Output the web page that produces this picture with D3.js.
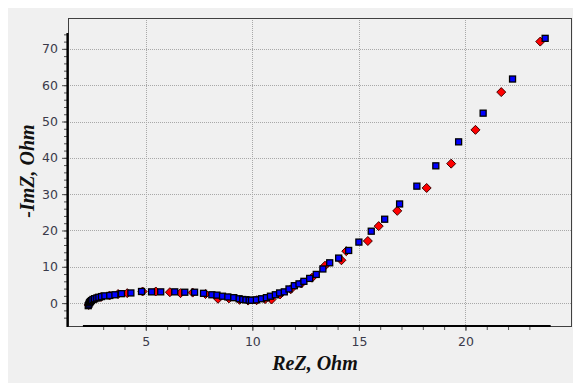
<!DOCTYPE html>
<html>
<head>
<meta charset="utf-8">
<script src="https://cdn.jsdelivr.net/npm/d3@7"></script>
<style>
  body { margin: 0; background: #ffffff; }
  svg { display: block; }
</style>
</head>
<body>
<figure id="nyquist" style="margin:0"></figure>
<script>
// ReZ / -ImZ values (Ohm)
const blueRe = [2.30, 2.33, 2.36, 2.40, 2.45, 2.52, 2.60, 2.70, 2.80, 2.92, 3.08, 3.31, 3.55, 3.86, 4.30,
  4.80, 5.27, 5.70, 6.36, 6.83, 7.29, 7.71, 8.10, 8.34, 8.60, 8.85, 9.13, 9.38, 9.55, 9.70, 9.85, 9.96,
  10.19, 10.43, 10.66, 10.85, 11.08, 11.28, 11.50, 11.72, 11.97, 12.19, 12.42, 12.69, 13.00, 13.31,
  13.63, 14.05, 14.52, 15.00, 15.58, 16.21, 16.91, 17.72, 18.61, 19.68, 20.83, 22.21, 23.74];
const blueIm = [-0.7, -0.3, 0.1, 0.4, 0.7, 1.0, 1.2, 1.4, 1.6, 1.8, 2.0, 2.1, 2.3, 2.6, 2.8,
  3.2, 3.1, 3.1, 3.1, 3.0, 3.0, 2.7, 2.3, 2.2, 1.9, 1.7, 1.5, 1.2, 1.0, 0.9, 0.8, 0.8,
  0.9, 1.2, 1.5, 1.9, 2.3, 2.8, 3.1, 3.9, 4.8, 5.3, 6.0, 6.8, 7.9, 9.4,
  11.1, 12.4, 14.5, 16.8, 19.8, 23.1, 27.3, 32.2, 37.8, 44.4, 52.3, 61.7, 72.9];

const redRe = [2.32, 2.38, 2.48, 2.65, 2.90, 3.30, 3.70, 4.13, 4.85, 5.47, 6.13, 6.63, 7.20, 7.80,
  8.39, 8.90, 9.40, 9.80, 10.20, 10.60, 10.90, 11.30, 11.80, 12.30, 12.80, 13.41, 14.18, 14.41,
  15.42, 15.93, 16.80, 18.18, 19.33, 20.47, 21.68, 23.51];
const redIm = [-0.5, 0.2, 0.9, 1.3, 1.7, 2.1, 2.5, 2.75, 3.2, 3.2, 3.0, 2.75, 2.9, 2.5,
  1.2, 1.3, 0.9, 0.7, 0.8, 1.1, 1.0, 2.4, 3.8, 5.4, 7.0, 10.3, 11.8, 14.3,
  17.1, 21.2, 25.4, 31.7, 38.4, 47.7, 58.1, 72.0];

const xTicks = [5, 10, 15, 20];
const yTicks = [0, 10, 20, 30, 40, 50, 60, 70];

const width = 573, height = 383;
const plot = {left: 68, top: 18, right: 572, bottom: 326};

const svg = d3.select("figure#nyquist")
  .append("svg")
  .attr("width", width)
  .attr("height", height);

// grey panel, white strip top/left
svg.append("rect").attr("width", width).attr("height", height).attr("fill", "#ffffff");
svg.append("rect").attr("x", 8).attr("y", 8).attr("width", width - 8).attr("height", height - 8).attr("fill", "#f0f0f0");

const x = d3.scaleLinear().domain([1.35, 25.0]).range([plot.left, plot.right]);
const y = d3.scaleLinear().domain([-6.3, 78.5]).range([plot.bottom, plot.top]);

// dotted grid
svg.append("g").selectAll("line")
  .data(xTicks).enter().append("line")
  .attr("x1", d => Math.round(x(d)) + 0.5).attr("x2", d => Math.round(x(d)) + 0.5)
  .attr("y1", plot.top).attr("y2", plot.bottom)
  .attr("stroke", "#a8a8a8").attr("stroke-dasharray", "1,1");
svg.append("g").selectAll("line")
  .data(yTicks).enter().append("line")
  .attr("y1", d => Math.round(y(d)) + 0.5).attr("y2", d => Math.round(y(d)) + 0.5)
  .attr("x1", plot.left).attr("x2", plot.right)
  .attr("stroke", "#a8a8a8").attr("stroke-dasharray", "1,1");

// thin frame
svg.append("rect")
  .attr("x", plot.left + 0.5).attr("y", plot.top + 0.5)
  .attr("width", plot.right - plot.left - 1).attr("height", plot.bottom - plot.top)
  .attr("fill", "none").attr("stroke", "#404040");

// axes with d3 axis generators
const xAxis = svg.append("g")
  .attr("transform", "translate(0," + plot.bottom + ")")
  .call(d3.axisBottom(x).tickValues(d3.range(3, 24)).tickSize(4).tickFormat(""));
xAxis.select(".domain").remove();
const xAxisMajor = svg.append("g")
  .attr("transform", "translate(0," + plot.bottom + ")")
  .call(d3.axisBottom(x).tickValues(xTicks).tickSize(5).tickPadding(6).tickFormat(d3.format("d")));
xAxisMajor.select(".domain").remove();

const yAxis = svg.append("g")
  .attr("transform", "translate(" + (plot.left - 1) + ",0)")
  .call(d3.axisLeft(y).tickValues(d3.range(-4, 76, 2)).tickSize(3).tickFormat(""));
yAxis.select(".domain").remove();
const yAxisMajor = svg.append("g")
  .attr("transform", "translate(" + (plot.left - 1) + ",0)")
  .call(d3.axisLeft(y).tickValues(yTicks).tickSize(5).tickPadding(4).tickFormat(d3.format("d")));
yAxisMajor.select(".domain").remove();

svg.selectAll(".tick line").attr("stroke", "#505050");
svg.selectAll(".tick text")
  .attr("fill", "#3a3a4a")
  .style("font-family", "'DejaVu Sans', sans-serif")
  .style("font-size", "12.5px");

// thick axis lines
svg.append("line")
  .attr("x1", plot.left - 0.5).attr("x2", plot.left - 0.5)
  .attr("y1", y(74.4)).attr("y2", plot.bottom + 1)
  .attr("stroke", "#000").attr("stroke-width", 2.2);
svg.append("line")
  .attr("x1", x(2.05)).attr("x2", x(24.0))
  .attr("y1", plot.bottom).attr("y2", plot.bottom)
  .attr("stroke", "#000").attr("stroke-width", 2.2);

// red diamonds (under)
svg.append("g").selectAll("path")
  .data(d3.zip(redRe, redIm)).enter().append("path")
  .attr("d", "M0,-4.5L4.5,0L0,4.5L-4.5,0Z")
  .attr("transform", d => "translate(" + x(d[0]) + "," + y(d[1]) + ")")
  .attr("fill", "#ff0000").attr("stroke", "#400000").attr("stroke-width", 1);

// blue squares (over)
svg.append("g").selectAll("rect")
  .data(d3.zip(blueRe, blueIm)).enter().append("rect")
  .attr("x", d => x(d[0]) - 3).attr("y", d => y(d[1]) - 3)
  .attr("width", 6).attr("height", 6)
  .attr("fill", "#0000ff").attr("stroke", "#000").attr("stroke-width", 1.3);

// axis titles
svg.append("text")
  .attr("x", 315).attr("y", 370)
  .attr("text-anchor", "middle")
  .style("font-family", "'Liberation Serif', 'Times New Roman', serif")
  .style("font-weight", "bold").style("font-style", "italic")
  .style("font-size", "20px")
  .attr("fill", "#111")
  .text("ReZ, Ohm");
svg.append("text")
  .attr("transform", "translate(34,171) rotate(-90)")
  .attr("text-anchor", "middle")
  .style("font-family", "'Liberation Serif', 'Times New Roman', serif")
  .style("font-weight", "bold").style("font-style", "italic")
  .style("font-size", "20px")
  .attr("fill", "#111")
  .text("-ImZ, Ohm");
</script>
</body>
</html>
